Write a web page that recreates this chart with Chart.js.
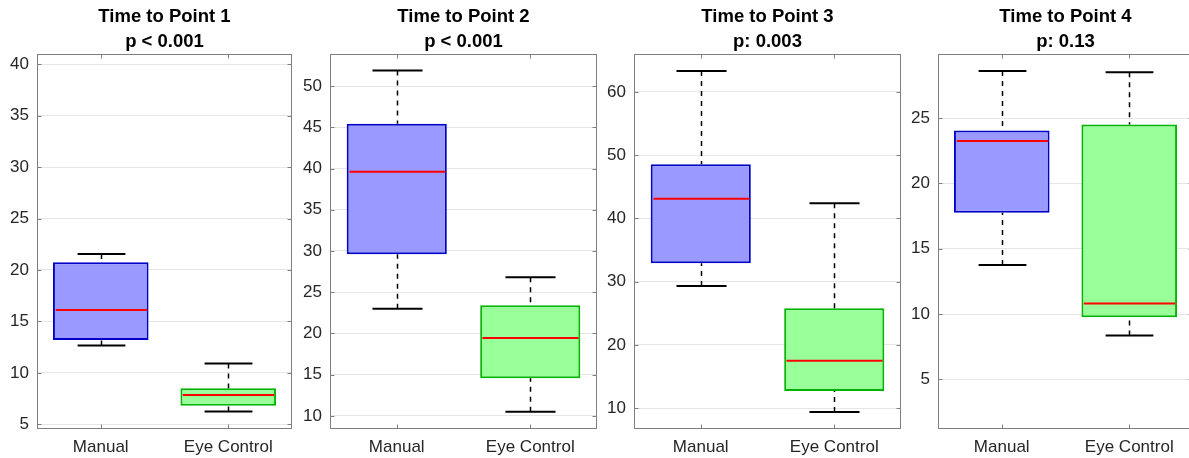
<!DOCTYPE html>
<html>
<head>
<meta charset="utf-8">
<script src="https://cdn.jsdelivr.net/npm/chart.js@4.4.1/dist/chart.umd.min.js"></script>
<style>
  html, body { margin: 0; padding: 0; background: #fff; width: 1189px; height: 458px; overflow: hidden; }
  canvas { position: absolute; top: 0; }
</style>
</head>
<body>
<canvas id="c0" width="300" height="458" style="left:0px"></canvas>
<canvas id="c1" width="300" height="458" style="left:300px"></canvas>
<canvas id="c2" width="305" height="458" style="left:600px"></canvas>
<canvas id="c3" width="290" height="458" style="left:905px"></canvas>
<script>
const categories = ['Manual', 'Eye Control'];
const titles = ['Time to Point 1', 'Time to Point 2', 'Time to Point 3', 'Time to Point 4'];
const pLabels = ['p < 0.001', 'p < 0.001', 'p: 0.003', 'p: 0.13'];

// [lower whisker, q1, median, q3, upper whisker] per panel
const manualStats = [
    [12.65, 13.2, 16.1, 20.75, 21.55],
    [23.0, 29.6, 39.6, 45.45, 51.9],
    [29.3, 32.9, 43.1, 48.55, 63.3],
    [13.75, 17.75, 23.25, 24.05, 28.6]
];
const eyeStats = [
    [6.25, 6.8, 7.85, 8.5, 10.9],
    [10.5, 14.55, 19.45, 23.4, 26.8],
    [9.4, 12.7, 17.5, 25.8, 42.4],
    [8.35, 9.75, 10.8, 24.5, 28.5]
];

const yTicks = [
    [5, 10, 15, 20, 25, 30, 35, 40],
    [10, 15, 20, 25, 30, 35, 40, 45, 50],
    [10, 20, 30, 40, 50, 60],
    [5, 10, 15, 20, 25]
];
const yMin = [4.54, 8.4, 6.7, 1.2];
const yMax = [41.0, 53.9, 66.0, 29.9];

// canvas id, y axis width, right padding
const panels = [
    { id: 'c0', axis: 37, pad: 8 },
    { id: 'c1', axis: 30, pad: 3 },
    { id: 'c2', axis: 34, pad: 4 },
    { id: 'c3', axis: 33, pad: 2 }
];

const FONT = "'Liberation Sans', Arial, Helvetica, sans-serif";
const FRAME = '#7f7f7f';

function makeBoxPlugin(stats) {
    return {
        id: 'boxWhiskers',
        afterDatasetsDraw(chart) {
            const ctx = chart.ctx;
            const x = chart.scales.x, y = chart.scales.y;
            const meta = chart.getDatasetMeta(0);
            stats.forEach((s, i) => {
                const [lo, q1, med, q3, hi] = s;
                const cx = Math.round(x.getPixelForValue(i)) + 0.5;
                const half = meta.data[i].width / 2;
                ctx.save();
                ctx.strokeStyle = '#000';
                ctx.lineWidth = 1.5;
                // dashed whiskers
                ctx.setLineDash([5, 5]);
                ctx.beginPath();
                ctx.moveTo(cx, y.getPixelForValue(hi));
                ctx.lineTo(cx, y.getPixelForValue(q3));
                ctx.moveTo(cx, y.getPixelForValue(lo));
                ctx.lineTo(cx, y.getPixelForValue(q1));
                ctx.stroke();
                // caps
                ctx.setLineDash([]);
                ctx.lineWidth = 2;
                ctx.beginPath();
                ctx.moveTo(cx - half / 2, y.getPixelForValue(hi));
                ctx.lineTo(cx + half / 2, y.getPixelForValue(hi));
                ctx.moveTo(cx - half / 2, y.getPixelForValue(lo));
                ctx.lineTo(cx + half / 2, y.getPixelForValue(lo));
                ctx.stroke();
                // median
                ctx.strokeStyle = '#ff0000';
                ctx.lineWidth = 2;
                ctx.beginPath();
                ctx.moveTo(cx - half + 2, y.getPixelForValue(med));
                ctx.lineTo(cx + half - 2, y.getPixelForValue(med));
                ctx.stroke();
                ctx.restore();
            });
        }
    };
}

// axes box with inward tick marks, like the original figure
const framePlugin = {
    id: 'frame',
    afterDraw(chart) {
        const { ctx, chartArea: a } = chart;
        const x = chart.scales.x, y = chart.scales.y;
        const L = Math.round(a.left) + 0.5, R = Math.round(a.right) - 0.5;
        const T = Math.round(a.top) + 0.5, B = Math.round(a.bottom) - 0.5;
        ctx.save();
        ctx.strokeStyle = FRAME;
        ctx.lineWidth = 1;
        ctx.strokeRect(L, T, R - L, B - T);
        ctx.beginPath();
        y.ticks.forEach(t => {
            const py = Math.round(y.getPixelForValue(t.value)) + 0.5;
            ctx.moveTo(L, py); ctx.lineTo(L + 4, py);
            ctx.moveTo(R, py); ctx.lineTo(R - 4, py);
        });
        categories.forEach((c, i) => {
            const px = Math.round(x.getPixelForValue(i)) + 0.5;
            ctx.moveTo(px, T); ctx.lineTo(px, T + 4);
            ctx.moveTo(px, B); ctx.lineTo(px, B - 4);
        });
        ctx.stroke();
        ctx.restore();
    }
};

panels.forEach((p, k) => {
    const stats = [manualStats[k], eyeStats[k]];
    new Chart(document.getElementById(p.id), {
        type: 'bar',
        data: {
            labels: categories,
            datasets: [{
                data: stats.map(s => [s[1], s[3]]),
                backgroundColor: ['#9999ff', '#99ff99'],
                borderColor: ['#0000c8', '#00b400'],
                borderWidth: 2,
                borderSkipped: false,
                barPercentage: 0.75,
                categoryPercentage: 1.0
            }]
        },
        options: {
            responsive: false,
            animation: false,
            layout: { padding: { left: 0, right: p.pad, top: 0, bottom: 0 } },
            plugins: {
                legend: { display: false },
                tooltip: { enabled: false },
                title: {
                    display: true,
                    fullSize: false,
                    text: [titles[k], pLabels[k]],
                    color: '#000',
                    font: { family: FONT, size: 18.5, weight: 'bold', lineHeight: '25px' },
                    padding: { top: 4, bottom: 0 }
                }
            },
            scales: {
                x: {
                    type: 'category',
                    offset: true,
                    grid: { display: false, drawTicks: false },
                    border: { display: false },
                    ticks: { color: '#262626', font: { family: FONT, size: 17 }, padding: 8 },
                    afterFit(scale) { scale.height = 29; }
                },
                y: {
                    min: yMin[k],
                    max: yMax[k],
                    afterBuildTicks(scale) { scale.ticks = yTicks[k].map(v => ({ value: v })); },
                    grid: { color: '#e6e6e6', drawTicks: false },
                    border: { display: false },
                    ticks: { color: '#262626', font: { family: FONT, size: 17 }, padding: 8 },
                    afterFit(scale) { scale.width = p.axis; }
                }
            }
        },
        plugins: [makeBoxPlugin(stats), framePlugin]
    });
});
</script>
</body>
</html>
